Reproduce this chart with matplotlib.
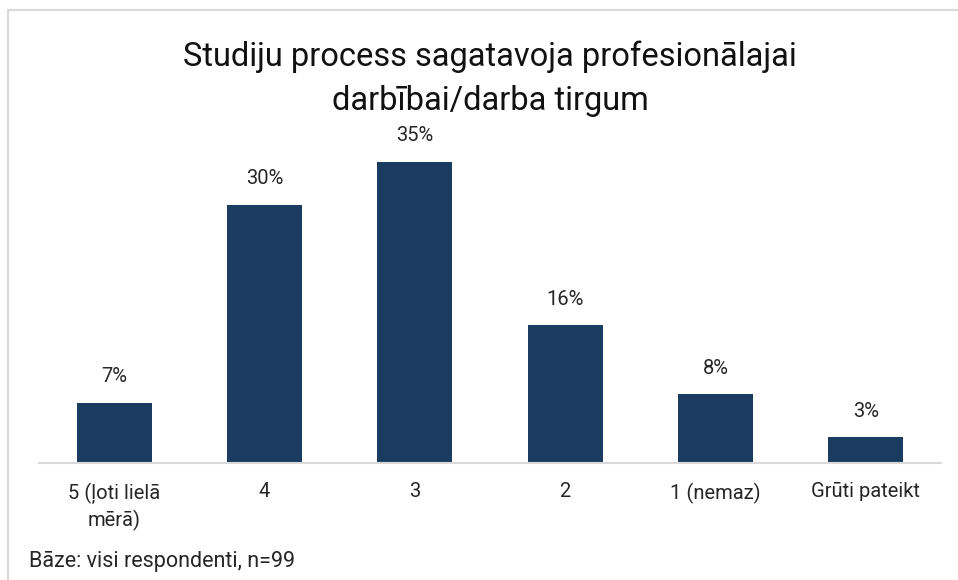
import matplotlib.pyplot as plt
from matplotlib.lines import Line2D

categories = ['5 (ļoti lielā\nmērā)', '4', '3', '2', '1 (nemaz)', 'Grūti pateikt']
values = [7, 30, 35, 16, 8, 3]
title = 'Studiju process sagatavoja profesionālajai\ndarbībai/darba tirgum'
note = 'Bāze: visi respondenti, n=99'

plt.rcParams['font.family'] = ['Roboto', 'DejaVu Sans']

W, H = 958, 580
fig = plt.figure(figsize=(W / 100, H / 100), dpi=100)

# chart frame: only top and left edges are visible in the screenshot
fig.add_artist(Line2D([8 / W, 8 / W], [0, 1 - 10 / H], transform=fig.transFigure,
                      color='#d9d9d9', lw=1.5))
fig.add_artist(Line2D([8 / W, 1], [1 - 10 / H, 1 - 10 / H], transform=fig.transFigure,
                      color='#d9d9d9', lw=1.5))

ax = fig.add_axes([39 / W, (H - 463) / H, (941 - 39) / W, (463 - 130) / H])
x = range(len(values))
ax.bar(x, values, width=0.5, color='#1b3c61')
ax.set_xlim(-0.5, len(values) - 0.5)
ax.set_ylim(0, 333 / 8.6)

for i, v in enumerate(values):
    ax.annotate(f'{v}%', (i, v), xytext=(0, 12), textcoords='offset points',
                ha='center', va='bottom', fontsize=14.5, color='#262626')

ax.set_xticks(list(x))
ax.set_xticklabels(categories, fontsize=14.5, color='#262626', linespacing=1.35)
ax.tick_params(axis='x', length=0, pad=14)
ax.set_yticks([])
for s in ['top', 'right', 'left']:
    ax.spines[s].set_visible(False)
ax.spines['bottom'].set_color('#d9d9d9')
ax.spines['bottom'].set_linewidth(1.5)

fig.text(490 / W, 1 - 79 / H, title, ha='center', va='center', fontsize=23.5,
         color='#111111', linespacing=1.5)
fig.text(29 / W, 1 - 562 / H, note, ha='left', va='center', fontsize=15.5, color='#262626')

fig.savefig('out.png', dpi=100)
